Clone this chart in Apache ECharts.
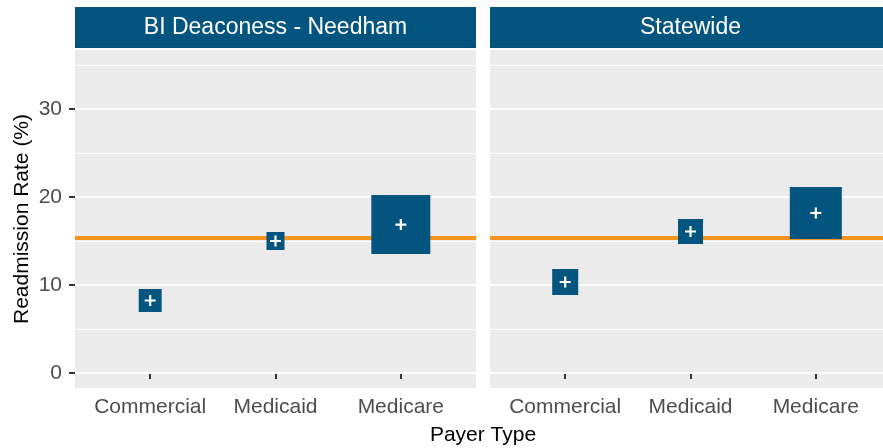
<!DOCTYPE html>
<html>
<head>
<meta charset="utf-8">
<script src="https://cdn.jsdelivr.net/npm/echarts@6/dist/echarts.min.js"></script>
<style>
html,body{margin:0;padding:0;background:#fff;overflow:hidden;width:883px;height:448px;}
#chart{width:892px;height:448px;}
</style>
</head>
<body>
<div id="chart"></div>
<script>
// ---- data ----
const categories = ['Commercial', 'Medicaid', 'Medicare'];
const facets = ['BI Deaconess - Needham', 'Statewide'];
const hospitalRate = [8.24, 15.0, 16.87];
const statewideRate = [10.34, 16.08, 18.18];
// share of discharges by payer (drives square size)
const hospitalShare = [0.125, 0.077, 0.824];
const statewideShare = [0.160, 0.148, 0.640];
const benchmark = 15.42;
const yTicks = [0, 10, 20, 30];
const yMinor = [5, 15, 25, 35];

// ---- styling ----
const FONT = '"Liberation Sans", Arial, sans-serif';
const BLUE = '#03557F';
const ORANGE = '#F7941D';
const SIZE_K = 65;
const plusPath = 'path://M4,0h2v4h4v2h-4v4h-2v-4h-4v-2h4z';

const panels = [
  { left: 75, rate: hospitalRate, share: hospitalShare },
  { left: 490, rate: statewideRate, share: statewideShare }
];
const TOP = 50, H = 338, W = 401;

const grids = [], xAxes = [], yAxes = [], series = [], graphics = [];

panels.forEach((p, i) => {
  grids.push({ left: p.left, top: TOP, width: W, height: H, show: true,
    backgroundColor: '#EBEBEB', borderWidth: 0 });
  xAxes.push({
    type: 'value', gridIndex: i, min: 0.4, max: 3.6,
    splitLine: { show: false }, axisLine: { show: false },
    axisTick: { show: true, customValues: [1, 2, 3], length: 6, lineStyle: { color: '#333', width: 2 } },
    axisLabel: { customValues: [1, 2, 3], formatter: v => categories[Math.round(v) - 1],
      fontSize: 21, color: '#4D4D4D', margin: 9, fontFamily: FONT }
  });
  yAxes.push({
    type: 'value', gridIndex: i, min: -1.7, max: 36.7,
    splitLine: { show: false }, axisLine: { show: false },
    axisTick: { show: i === 0, customValues: yTicks, length: 6, lineStyle: { color: '#333', width: 2 } },
    axisLabel: { show: i === 0, customValues: yTicks, formatter: v => String(v),
      fontSize: 21, color: '#4D4D4D', margin: 13, fontFamily: FONT },
    name: i === 0 ? 'Readmission Rate (%)' : '',
    nameLocation: 'middle', nameGap: 42, nameRotate: 90,
    nameTextStyle: { fontSize: 21, color: '#000', fontFamily: FONT }
  });
  // gridlines
  series.push({
    type: 'scatter', xAxisIndex: i, yAxisIndex: i, data: [], z: 1, silent: true,
    markLine: { silent: true, symbol: 'none', label: { show: false }, z: 1, zlevel: 0,
      animation: false,
      data: yTicks.map(v => ({ yAxis: v, lineStyle: { color: '#fff', width: 2, type: 'solid' } }))
        .concat(yMinor.map(v => ({ yAxis: v, lineStyle: { color: '#fff', width: 1, type: 'solid' } })))
    }
  });
  // benchmark line
  series.push({
    type: 'scatter', xAxisIndex: i, yAxisIndex: i, data: [], z: 2, silent: true,
    markLine: { silent: true, symbol: 'none', label: { show: false }, z: 2, zlevel: 0, animation: false,
      data: [{ yAxis: benchmark, lineStyle: { color: ORANGE, width: 4, type: 'solid' } }] }
  });
  // squares
  series.push({
    type: 'scatter', xAxisIndex: i, yAxisIndex: i, z: 6, animation: false,
    symbol: 'rect',
    data: p.rate.map((v, k) => ({ value: [k + 1, v], symbolSize: SIZE_K * Math.sqrt(p.share[k]) })),
    itemStyle: { color: BLUE, opacity: 1 }
  });
  // plus markers
  series.push({
    type: 'scatter', xAxisIndex: i, yAxisIndex: i, z: 7, animation: false,
    symbol: plusPath, symbolSize: 11,
    data: p.rate.map((v, k) => [k + 1, v]),
    itemStyle: { color: '#fff', opacity: 1 }
  });
  // strip
  graphics.push({ type: 'rect', left: p.left, top: 7, shape: { width: W, height: 41 },
    style: { fill: BLUE }, z: 10 });
  graphics.push({ type: 'rect', left: p.left, top: 47, shape: { width: W, height: 1 },
    style: { fill: '#024a6e' }, z: 11 });
  graphics.push({ type: 'text', x: p.left + W / 2, y: 27.5, z: 12,
    style: { text: facets[i], fill: '#fff', font: '23px ' + FONT, textAlign: 'center', textVerticalAlign: 'middle' } });
});

graphics.push({ type: 'text', x: 483, y: 425, z: 12,
  style: { text: 'Payer Type', fill: '#000', font: '21px ' + FONT, textAlign: 'center', textVerticalAlign: 'top' } });

const chart = echarts.init(document.getElementById('chart'), null, { renderer: 'canvas' });
chart.setOption({
  animation: false,
  backgroundColor: '#fff',
  grid: grids, xAxis: xAxes, yAxis: yAxes, series: series, graphic: graphics
});
</script>
</body>
</html>
